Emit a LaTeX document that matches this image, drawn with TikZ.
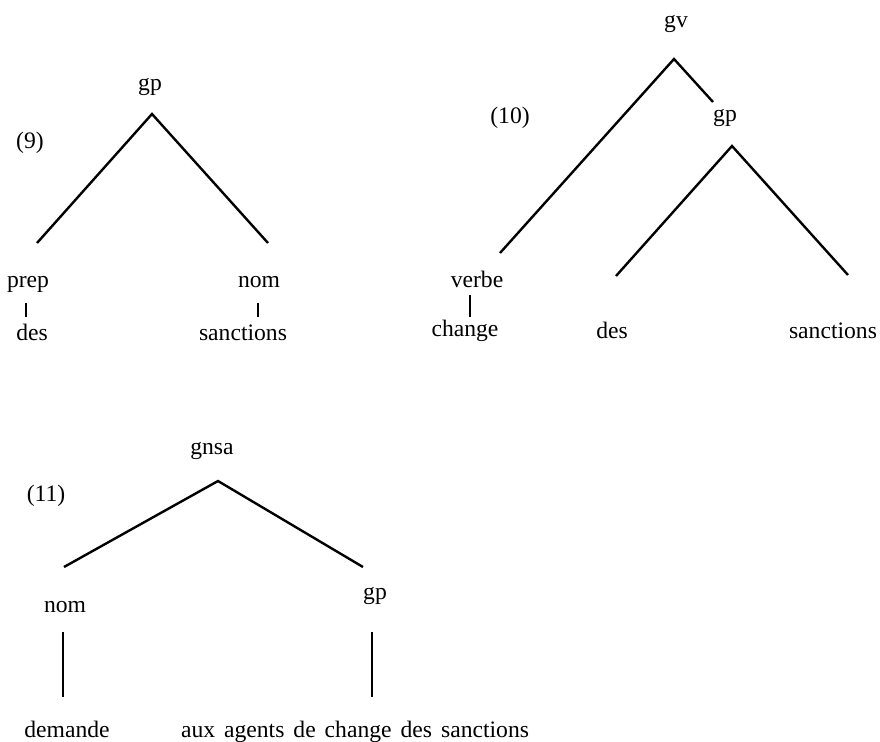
\documentclass[tikz,border=0pt]{standalone}
\usepackage{fontspec}
\setmainfont{Liberation Serif}
\usetikzlibrary{positioning, calc}

\begin{document}
\begin{tikzpicture}[
        x=0.025cm, y=-0.025cm,
        font=\fontsize{16.8}{20}\selectfont,
        lab/.style={anchor=base, inner sep=0pt},
        branch/.style={line width=1.7pt},
        stem/.style={line width=1.3pt},
    ]
    \fill[white] (0,0) rectangle (880,742);
    \useasboundingbox (0,0) rectangle (880,742);

    % ---- (9) ----
    \node[lab] (num9) at (30,148) {(9)};
    \node[lab] (gp9) at (150,91) {gp};
    \node[lab] (prep9) at (28,287) {prep};
    \node[lab] (nom9) at (259,287) {nom};
    \node[lab] (des9) at (32,340) {des};
    \node[lab] (sanc9) at (243,340) {sanctions};

    \coordinate (gp9top) at ($(gp9.base)+(2,23)$);
    \coordinate (prep9top) at ($(prep9.base)+(9,-44)$);
    \coordinate (nom9top) at ($(nom9.base)+(9,-44)$);
    \draw[branch] (prep9top) -- (gp9top) -- (nom9top);
    \draw[stem] ($(prep9.base)+(-2,16)$) -- ++(0,14);
    \draw[stem] ($(nom9.base)+(-1,16)$) -- ++(0,14);

    % ---- (10) ----
    \node[lab] (num10) at (510,123) {(10)};
    \node[lab] (gv10) at (676,28) {gv};
    \node[lab] (gp10) at (725,121) {gp};
    \node[lab] (verbe10) at (477,287) {verbe};
    \node[lab] (change10) at (465,336) {change};
    \node[lab] (des10) at (612,338) {des};
    \node[lab] (sanc10) at (833,338) {sanctions};

    \coordinate (gv10top) at ($(gv10.base)+(-2,31)$);
    \coordinate (verbe10top) at ($(verbe10.base)+(23,-34)$);
    \coordinate (gp10up) at ($(gp10.base)+(-12,-19)$);
    \coordinate (gp10top) at ($(gp10.base)+(7,25)$);
    \coordinate (des10top) at ($(des10.base)+(4,-62)$);
    \coordinate (sanc10top) at ($(sanc10.base)+(15,-63)$);
    \draw[branch] (verbe10top) -- (gv10top) -- (gp10up);
    \draw[branch] (des10top) -- (gp10top) -- (sanc10top);
    \draw[stem] ($(verbe10.base)+(-7,8)$) -- ++(0,22);

    % ---- (11) ----
    \node[lab] (num11) at (46,501) {(11)};
    \node[lab] (gnsa11) at (212,454) {gnsa};
    \node[lab] (nom11) at (65,612) {nom};
    \node[lab] (gp11) at (375,599) {gp};
    \node[lab] (dem11) at (67,737) {demande};
    \node[lab] (aux11) at (355,737) {\spaceskip=0.38em aux agents de change des sanctions};

    \coordinate (gnsa11top) at ($(gnsa11.base)+(6,27)$);
    \coordinate (nom11top) at ($(nom11.base)+(-1,-45)$);
    \coordinate (gp11top) at ($(gp11.base)+(-12,-32)$);
    \draw[branch] (nom11top) -- (gnsa11top) -- (gp11top);
    \draw[stem] ($(nom11.base)+(-2,20)$) -- ++(0,65);
    \draw[stem] ($(gp11.base)+(-3,33)$) -- ++(0,65);
\end{tikzpicture}
\end{document}
